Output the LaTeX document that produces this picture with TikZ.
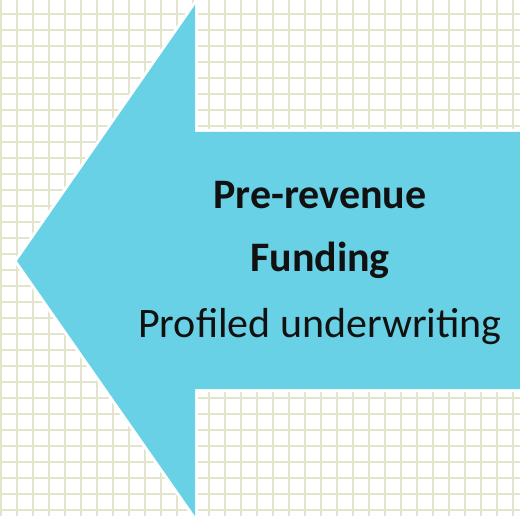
\documentclass[tikz,border=0pt]{standalone}
\usepackage{fontspec}
\setmainfont{Carlito}
\definecolor{gridc}{HTML}{E2E4CC}
\definecolor{arrowc}{HTML}{69D1E5}
\definecolor{textc}{HTML}{111111}
\begin{document}
\begin{tikzpicture}[x=1pt,y=-1pt,
  gridline/.style={draw=gridc,line width=2pt},
  lbl/.style={text=textc,font=\fontsize{42}{50}\selectfont,anchor=base,inner sep=0pt}]
\useasboundingbox (0,0) rectangle (520,516);
\fill[white] (0,0) rectangle (520,516);
\foreach \i in {0,...,32} {\draw[gridline] (1+16*\i,0) -- (1+16*\i,516);}
\foreach \j in {0,...,31} {\draw[gridline] (0,14+16*\j) -- (520,14+16*\j);}
\draw[white,line width=6pt,line join=miter] (17,261) -- (195,5) -- (195,132) -- (524,132) -- (524,389) -- (195,389) -- (195,516) -- cycle;
\fill[arrowc] (17,261) -- (195,5) -- (195,132) -- (524,132) -- (524,389) -- (195,389) -- (195,516) -- cycle;
\node[lbl,font=\fontsize{42}{50}\selectfont\bfseries] (a) at (320,208) {Pre-revenue};
\node[lbl,font=\fontsize{42}{50}\selectfont\bfseries] (b) at (320,272) {Funding};
\node[lbl] (c) at (320,337) {Profiled underwriting};
\end{tikzpicture}
\end{document}
